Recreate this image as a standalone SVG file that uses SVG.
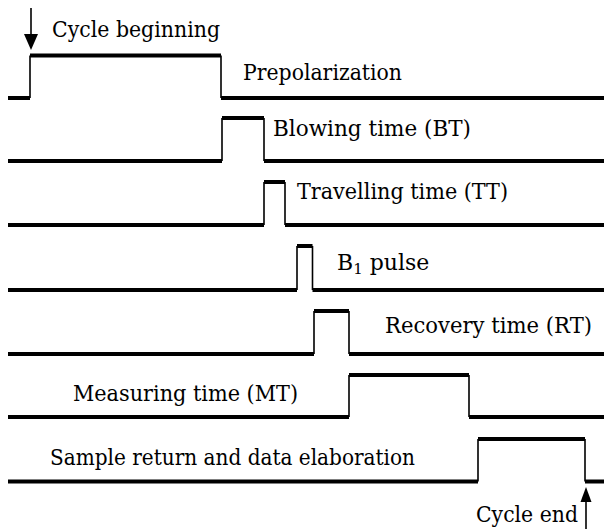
<svg xmlns="http://www.w3.org/2000/svg" width="604" height="529" viewBox="0 0 604 529">
<style>
.sig{fill:none;stroke:#000;stroke-width:1.6;stroke-linejoin:miter}
.h{stroke:#000;stroke-width:4;fill:none}
text{font-family:'DejaVu Serif','Liberation Serif',serif;font-size:22px;fill:#000}
</style>
<rect width="604" height="529" fill="#fff"/>
<g id="connectors">
<line x1="31" y1="8" x2="31" y2="36" stroke="#000" stroke-width="1.6"/>
<polygon points="24,34 38,34 31,50" fill="#000"/>
<line x1="586" y1="500" x2="586" y2="529" stroke="#000" stroke-width="1.6"/>
<polygon points="580.5,502 591.5,502 586,487" fill="#000"/>
</g>
<g id="prepolarization">
<path class="sig" d="M30,98 V55.5 M221,55.5 V98"/>
<path class="h" d="M8,98 H30 M30,55.5 H221 M221,98 H604"/>
<text x="52" y="37" textLength="168" lengthAdjust="spacingAndGlyphs">Cycle beginning</text>
<text x="243" y="80" textLength="159" lengthAdjust="spacingAndGlyphs">Prepolarization</text>
</g>
<g id="blowing">
<path class="sig" d="M222,161 V118 M264,118 V161"/>
<path class="h" d="M8,161 H222 M222,118 H264 M264,161 H604"/>
<text x="273" y="136" textLength="198" lengthAdjust="spacingAndGlyphs">Blowing time (BT)</text>
</g>
<g id="travelling">
<path class="sig" d="M264,225 V182 M285,182 V225"/>
<path class="h" d="M8,225 H264 M264,182 H285 M285,225 H604"/>
<text x="297" y="199" textLength="211" lengthAdjust="spacingAndGlyphs">Travelling time (TT)</text>
</g>
<g id="b1pulse">
<path class="sig" d="M297,290 V246 M312.5,246 V290"/>
<path class="h" d="M8,290 H297 M297,246 H312.5 M312.5,290 H604"/>
<text x="337" y="270">B<tspan font-size="15" dy="4">1</tspan><tspan dy="-4"> pulse</tspan></text>
</g>
<g id="recovery">
<path class="sig" d="M314,354 V311 M349,311 V354"/>
<path class="h" d="M8,354 H314 M314,311 H349 M349,354 H604"/>
<text x="385" y="333" font-size="21" textLength="207" lengthAdjust="spacingAndGlyphs">Recovery time (RT)</text>
</g>
<g id="measuring">
<path class="sig" d="M349,417 V375 M469,375 V417"/>
<path class="h" d="M8,417 H349 M349,375 H469 M469,417 H604"/>
<text x="73" y="401" textLength="225" lengthAdjust="spacingAndGlyphs">Measuring time (MT)</text>
</g>
<g id="sample-return">
<path class="sig" d="M478,481.5 V439 M585,439 V481.5"/>
<path class="h" d="M8,481.5 H478 M478,439 H585 M585,481.5 H604"/>
<text x="50" y="465" textLength="365" lengthAdjust="spacingAndGlyphs">Sample return and data elaboration</text>
<text x="476" y="522" textLength="102" lengthAdjust="spacingAndGlyphs">Cycle end</text>
</g>
</svg>
